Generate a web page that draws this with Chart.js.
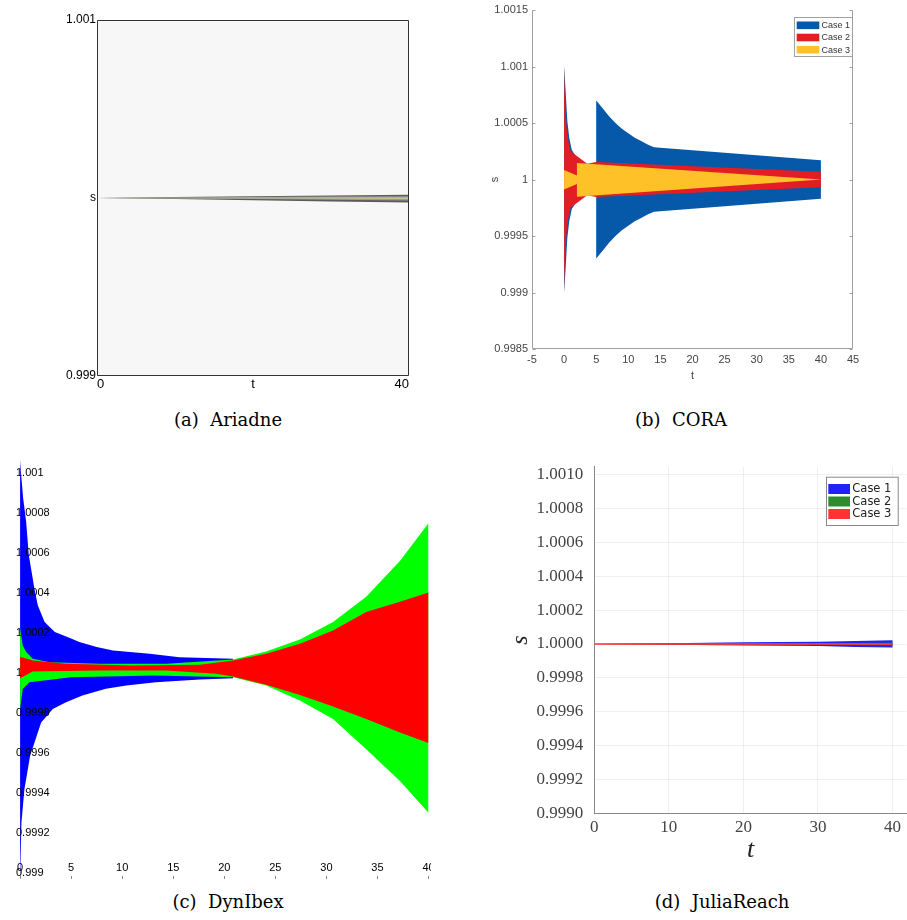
<!DOCTYPE html>
<html>
<head>
<meta charset="utf-8">
<script src="https://cdn.jsdelivr.net/npm/chart.js@4.4.1/dist/chart.umd.min.js"></script>
<style>
body { margin: 0; background: #fff; }
#fig { position: relative; width: 907px; height: 920px; overflow: hidden; }
canvas { position: absolute; }
.cap { position: absolute; width: 300px; text-align: center; font-family: 'DejaVu Serif', serif; font-size: 18px; color: #000; white-space: pre; }
</style>
</head>
<body>
<div id="fig">
  <canvas id="ariadne" width="400" height="400" style="left:40px;top:0px"></canvas>
  <canvas id="cora" width="447" height="400" style="left:460px;top:0px"></canvas>
  <canvas id="dynibex" width="431" height="425" style="left:0px;top:455px"></canvas>
  <canvas id="julia" width="407" height="425" style="left:500px;top:455px"></canvas>
  <div class="cap" style="left:78px;top:409px">(a)  Ariadne</div>
  <div class="cap" style="left:531px;top:409px">(b)  CORA</div>
  <div class="cap" style="left:78px;top:891px">(c)  DynIbex</div>
  <div class="cap" style="left:572px;top:891px">(d)  JuliaReach</div>
</div>
<script>
const caseLabels = ['Case 1', 'Case 2', 'Case 3'];

// (a) Ariadne - three nested grey bands
const ariT = [0, 5, 10, 20, 30, 40];
const ariOuterUp = [1, 1.000003, 1.000006, 1.000010, 1.000014, 1.000018];
const ariOuterLo = [1, 0.999997, 0.999994, 0.999988, 0.999981, 0.999975];
const ariMidUp = [1, 1.000002, 1.000003, 1.000006, 1.000008, 1.000010];
const ariMidLo = [1, 0.999998, 0.999997, 0.999994, 0.999990, 0.999986];
const ariCoreUp = [1, 1.000001, 1.000001, 1.000002, 1.000003, 1.000003];
const ariCoreLo = [1, 0.999999, 0.999999, 0.999998, 0.999997, 0.999995];
const ariYTicks = [0.999, 1, 1.001];
const ariYLabels = ['0.999', 's', '1.001'];
const ariXTicks = [0, 20, 40];
const ariXLabels = ['0', 't', '40'];

// (b) CORA
const coraC1T = [0, 0.2, 0.5, 0.8, 1.2, 3, 5, 5, 6, 7, 8, 9, 10, 11, 12, 13, 14, 40];
const coraC1Up = [1.001, 1.00082, 1.00052, 1.00037, 1.00026, 1.0001, 1.0001, 1.0007, 1.00063, 1.00056, 1.0005, 1.00045, 1.00041, 1.00037, 1.00034, 1.00031, 1.000285, 1.00017];
const coraC1Lo = [0.999, 0.99918, 0.99948, 0.99963, 0.99974, 0.9999, 0.9999, 0.9993, 0.99937, 0.99944, 0.9995, 0.99955, 0.99959, 0.99963, 0.99966, 0.99969, 0.999715, 0.99983];
const coraC2T = [0, 0.15, 0.4, 0.7, 1.0, 3.6, 5, 40];
const coraC2Up = [1.001, 1.0007, 1.00045, 1.00033, 1.00025, 1.00014, 1.000155, 1.000068];
const coraC2Lo = [0.999, 0.9993, 0.99955, 0.99967, 0.99975, 0.99986, 0.999845, 0.999932];
const coraC3T = [0, 2, 2, 40];
const coraC3Up = [1.000083, 1.000035, 1.000147, 1.0];
const coraC3Lo = [0.999912, 0.99996, 0.999847, 1.0];
const coraYTicks = [0.9985, 0.999, 0.9995, 1, 1.0005, 1.001, 1.0015];
const coraXTicks = [-5, 0, 5, 10, 15, 20, 25, 30, 35, 40, 45];

// (c) DynIbex
const dynC1UpT = [0, 0.1, 0.3, 0.59, 0.85, 1.4, 1.73, 2.4, 3.4, 5.0, 5.8, 7.5, 9.1, 12.7, 15.6, 20.85];
const dynC1Up = [1.001067, 1.000992, 1.000874, 1.000757, 1.00059, 1.000423, 1.000339, 1.000255, 1.000205, 1.000172, 1.000155, 1.00013, 1.000113, 1.000096, 1.000079, 1.000071];
const dynC1LoT = [0, 0.13, 0.42, 0.98, 2.06, 3.2, 4.5, 6.1, 8.4, 10.4, 13.3, 17.6, 20.85];
const dynC1Lo = [0.99894, 0.999251, 0.999418, 0.999586, 0.999753, 0.99982, 0.999854, 0.999887, 0.999921, 0.999937, 0.999954, 0.999967, 0.999974];
const dynC2UpT = [0, 0.26, 0.59, 1.24, 2.9, 7.8, 14.3, 20.85, 24.1, 27.4, 30.65, 33.9, 37.2, 40];
const dynC2Up = [1.000222, 1.000138, 1.000105, 1.000071, 1.000054, 1.000046, 1.000046, 1.000068, 1.000108, 1.000168, 1.000255, 1.000381, 1.00056, 1.000749];
const dynC2LoT = [0, 0.26, 0.9, 5, 13, 20.85, 24.1, 27.4, 30.65, 33.9, 37.2, 40];
const dynC2Lo = [0.99982, 0.99992, 0.999954, 0.999979, 0.999987, 0.999979, 0.999937, 0.999862, 0.99977, 0.999619, 0.99946, 0.999301];
const dynC3UpT = [0, 0.26, 1.24, 4.5, 11, 17.6, 20.85, 24.1, 27.4, 30.65, 33.9, 37.2, 40];
const dynC3Up = [1.00008, 1.000077, 1.000063, 1.000046, 1.000038, 1.000041, 1.000063, 1.000096, 1.000146, 1.000213, 1.000305, 1.000356, 1.000402];
const dynC3LoT = [0, 1.24, 7.8, 14.3, 19.2, 20.85, 24.1, 27.4, 30.65, 33.9, 37.2, 40];
const dynC3Lo = [0.999974, 1.000008, 1.000013, 1.000013, 0.999996, 0.999982, 0.999941, 0.99989, 0.999833, 0.99977, 0.999703, 0.99965];
const dynYTicks = [0.999, 0.9992, 0.9994, 0.9996, 0.9998, 1, 1.0002, 1.0004, 1.0006, 1.0008, 1.001];
const dynXTicks = [0, 5, 10, 15, 20, 25, 30, 35, 40];

// (d) JuliaReach
const juliaT = [0, 5, 10, 20, 30, 35, 40];
const juliaC1Up = [1, 1.000002, 1.000005, 1.00001, 1.000014, 1.000018, 1.000022];
const juliaC1Lo = [1, 0.999998, 0.999995, 0.999991, 0.999988, 0.999982, 0.99998];
const juliaC2Up = [1, 1.000001, 1.000002, 1.000004, 1.000005, 1.000006, 1.000007];
const juliaC2Lo = [1, 0.999999, 0.999998, 0.999996, 0.999995, 0.999994, 0.999993];
const juliaC3Up = [1, 1.000001, 1.000001, 1.000001, 1.000001, 1.000001, 1.000001];
const juliaC3Lo = [1, 0.999999, 0.999999, 0.999999, 0.999999, 0.999999, 0.999999];
const juliaYTicks = [0.999, 0.9992, 0.9994, 0.9996, 0.9998, 1, 1.0002, 1.0004, 1.0006, 1.0008, 1.001];
const juliaXTicks = [0, 10, 20, 30, 40];

Chart.defaults.font.family = "'Liberation Sans', Arial, sans-serif";
const narrow = "'Liberation Sans Narrow', 'Liberation Sans', sans-serif";

// polygon: upper edge left to right, lower edge back
function band(tUp, up, tLo, lo) {
  const pts = tUp.map((t, i) => ({x: t, y: up[i]}));
  for (let i = tLo.length - 1; i >= 0; i--) pts.push({x: tLo[i], y: lo[i]});
  return pts;
}
function area(tUp, up, tLo, lo, color, order, extra) {
  return Object.assign({
    data: band(tUp, up, tLo, lo), fill: 'shape', backgroundColor: color,
    borderWidth: 0, pointRadius: 0, tension: 0, order: order
  }, extra || {});
}
const fixTicks = vals => scale => { scale.ticks = vals.map(v => ({value: v})); };
const fixWidth = w => scale => { scale.width = w; scale.paddingTop = 0; scale.paddingBottom = 0; };
const fixHeight = h => scale => { scale.height = h; scale.paddingLeft = 0; scale.paddingRight = 0; };
const trim = v => String(parseFloat(Number(v).toFixed(4)));

const framePlugin = {
  id: 'frame',
  beforeDatasetsDraw(chart, args, o) {
    if (!o || !o.fill) return;
    const a = chart.chartArea, ctx = chart.ctx;
    ctx.save();
    ctx.fillStyle = o.fill;
    ctx.fillRect(a.left, a.top, a.right - a.left, a.bottom - a.top);
    ctx.restore();
  },
  afterDatasetsDraw(chart, args, o) {
    if (!o || !o.sides) return;
    const a = chart.chartArea, ctx = chart.ctx;
    const L = Math.round(a.left) + 0.5, R = Math.round(a.right) - 0.5;
    const T = Math.round(a.top) + 0.5, B = Math.round(a.bottom) - 0.5;
    ctx.save();
    ctx.strokeStyle = o.color;
    ctx.lineWidth = 1;
    ctx.beginPath();
    if (o.sides.includes('left')) { ctx.moveTo(L, T); ctx.lineTo(L, B); }
    if (o.sides.includes('right')) { ctx.moveTo(R, T); ctx.lineTo(R, B); }
    if (o.sides.includes('top')) { ctx.moveTo(L, T); ctx.lineTo(R, T); }
    if (o.sides.includes('bottom')) { ctx.moveTo(L, B); ctx.lineTo(R, B); }
    if (o.tick) {
      const ys = chart.scales.y;
      ys.ticks.forEach(t => {
        const p = Math.round(ys.getPixelForValue(t.value)) + 0.5;
        if (o.sides.includes('left')) { ctx.moveTo(L, p); ctx.lineTo(L + o.tick, p); }
        if (o.sides.includes('right')) { ctx.moveTo(R, p); ctx.lineTo(R - o.tick, p); }
      });
    }
    ctx.stroke();
    ctx.restore();
  }
};

// legend box drawn inside the plot, entries come from labelled datasets
const boxLegend = {
  id: 'boxLegend',
  afterDraw(chart, args, o) {
    if (!o || o.x === undefined) return;
    const ctx = chart.ctx;
    const items = chart.data.datasets.filter(d => d.label);
    ctx.save();
    ctx.fillStyle = '#fff';
    ctx.fillRect(o.x, o.y, o.w, o.h);
    ctx.strokeStyle = o.border;
    ctx.lineWidth = 1;
    ctx.strokeRect(o.x + 0.5, o.y + 0.5, o.w, o.h);
    ctx.font = o.font;
    ctx.textBaseline = 'middle';
    items.forEach((d, i) => {
      const y = o.y + o.y0 + i * o.row;
      ctx.fillStyle = d.backgroundColor;
      ctx.fillRect(o.x + o.sx, y, o.sw, o.sh);
      ctx.fillStyle = o.color;
      ctx.fillText(d.label, o.x + o.tx, y + o.sh / 2 + 0.5);
    });
    ctx.restore();
  }
};

const base = {
  animation: false,
  responsive: false,
  devicePixelRatio: 1,
  events: []
};

// (a) Ariadne
new Chart(document.getElementById('ariadne'), {
  type: 'line',
  data: {datasets: [
    area(ariT, ariOuterUp, ariT, ariOuterLo, '#5b5b5b', 3),
    area(ariT, ariMidUp, ariT, ariMidLo, '#9c9c9c', 2),
    area(ariT, ariCoreUp, ariT, ariCoreLo, '#cdc38d', 1)
  ]},
  options: Object.assign({}, base, {
    layout: {padding: {top: 20, right: 31, left: 0, bottom: 0}},
    plugins: {
      legend: {display: false}, tooltip: {enabled: false},
      frame: {fill: '#f7f7f7', color: '#333', sides: ['left', 'right', 'top', 'bottom']}
    },
    scales: {
      x: {
        type: 'linear', min: 0, max: 40,
        afterBuildTicks: fixTicks(ariXTicks), afterFit: fixHeight(24),
        grid: {display: false, drawTicks: false}, border: {display: false},
        ticks: {align: 'inner', maxRotation: 0, padding: 1, color: '#000', font: {size: 13},
                callback: (v, i) => ariXLabels[i]}
      },
      y: {
        min: 0.999, max: 1.001,
        afterBuildTicks: fixTicks(ariYTicks), afterFit: fixWidth(57),
        grid: {display: false, drawTicks: false}, border: {display: false},
        ticks: {padding: 1, color: '#000', font: {size: 12}, callback: (v, i) => ariYLabels[i]}
      }
    }
  }),
  plugins: [framePlugin]
});

// (b) CORA
new Chart(document.getElementById('cora'), {
  type: 'line',
  data: {datasets: [
    area(coraC1T, coraC1Up, coraC1T, coraC1Lo, '#0659a9', 3, {label: caseLabels[0]}),
    area(coraC2T, coraC2Up, coraC2T, coraC2Lo, '#e31d24', 2, {label: caseLabels[1]}),
    area(coraC3T, coraC3Up, coraC3T, coraC3Lo, '#fec127', 1, {label: caseLabels[2]})
  ]},
  options: Object.assign({}, base, {
    layout: {padding: {top: 10, right: 54, left: 0, bottom: 0}},
    plugins: {
      legend: {display: false}, tooltip: {enabled: false},
      frame: {color: '#a0a0a0', sides: ['left', 'right', 'bottom'], tick: 3},
      boxLegend: {x: 334, y: 17, w: 58, h: 39, y0: 4.5, row: 12.2, sx: 2.7, sw: 22.6, sh: 7.6, tx: 27.5,
                  font: "9px " + narrow, color: '#333', border: '#a0a0a0'}
    },
    scales: {
      x: {
        type: 'linear', min: -5, max: 45,
        afterBuildTicks: fixTicks(coraXTicks), afterFit: fixHeight(51),
        grid: {display: false, drawTicks: false}, border: {display: false},
        ticks: {maxRotation: 0, padding: 4, color: '#444', font: {family: narrow, size: 11}},
        title: {display: true, text: 't', color: '#444', font: {family: narrow, size: 11}, padding: {top: 0, bottom: 17}}
      },
      y: {
        min: 0.9985, max: 1.0015,
        afterBuildTicks: fixTicks(coraYTicks), afterFit: fixWidth(72),
        grid: {display: false, drawTicks: false}, border: {display: false},
        ticks: {padding: 4, color: '#444', font: {family: narrow, size: 11}, callback: v => trim(v)},
        title: {display: true, text: 's', color: '#444', font: {family: narrow, size: 11}, padding: {top: 28, bottom: 0}}
      }
    }
  }),
  plugins: [framePlugin, boxLegend]
});

// (c) DynIbex - tick labels sit inside the plot, over the data
new Chart(document.getElementById('dynibex'), {
  type: 'line',
  data: {datasets: [
    area(dynC1UpT, dynC1Up, dynC1LoT, dynC1Lo, '#0000ff', 3, {label: caseLabels[0]}),
    area(dynC2UpT, dynC2Up, dynC2LoT, dynC2Lo, '#00ff00', 2, {label: caseLabels[1]}),
    area(dynC3UpT, dynC3Up, dynC3LoT, dynC3Lo, '#ff0000', 1, {label: caseLabels[2]})
  ]},
  options: Object.assign({}, base, {
    layout: {padding: {top: 5, right: 2.5, left: 0, bottom: 0}},
    plugins: {legend: {display: false}, tooltip: {enabled: false}},
    scales: {
      x: {
        type: 'linear', min: -0.5, max: 40,
        afterBuildTicks: fixTicks(dynXTicks), afterFit: fixHeight(4),
        grid: {drawOnChartArea: false, drawTicks: true, tickLength: 3, color: '#888'}, border: {display: false},
        ticks: {mirror: true, z: 1, maxRotation: 0, autoSkip: false, padding: 1, color: '#000', font: {family: narrow, size: 11}}
      },
      y: {
        min: 0.998985, max: 1.001065,
        afterBuildTicks: fixTicks(dynYTicks), afterFit: fixWidth(15),
        grid: {display: false, drawTicks: false}, border: {display: false},
        ticks: {mirror: true, z: 1, padding: 1, color: '#000', font: {family: narrow, size: 11}, callback: v => trim(v)}
      }
    }
  })
});

// (d) JuliaReach
new Chart(document.getElementById('julia'), {
  type: 'line',
  data: {datasets: [
    area(juliaT, juliaC1Up, juliaT, juliaC1Lo, '#2222f5', 3, {label: caseLabels[0]}),
    area(juliaT, juliaC2Up, juliaT, juliaC2Lo, '#2e8b2e', 2, {label: caseLabels[1]}),
    area(juliaT, juliaC3Up, juliaT, juliaC3Lo, '#ff3333', 1, {label: caseLabels[2], borderWidth: 1, borderColor: '#ff3333'})
  ]},
  options: Object.assign({}, base, {
    layout: {padding: {top: 11.7, right: 0.3, left: 0, bottom: 0}},
    plugins: {
      legend: {display: false}, tooltip: {enabled: false},
      boxLegend: {x: 326, y: 21.7, w: 71.7, h: 48.3, y0: 7.3, row: 12.5, sx: 2.3, sw: 21.7, sh: 10, tx: 26.3,
                  font: "11.5px 'DejaVu Sans', sans-serif", color: '#222', border: '#888'}
    },
    scales: {
      x: {
        type: 'linear', min: 0, max: 41.9,
        afterBuildTicks: fixTicks(juliaXTicks), afterFit: fixHeight(66.3),
        grid: {color: 'rgba(0,0,0,0.06)', drawTicks: false}, border: {display: true, color: '#888'},
        ticks: {maxRotation: 0, padding: 4, color: '#444', font: {family: "'Liberation Serif', serif", size: 17}},
        title: {display: true, text: 't', color: '#222', font: {family: "'Liberation Serif', serif", style: 'italic', size: 26}, padding: {top: 0, bottom: 14}}
      },
      y: {
        min: 0.999, max: 1.001045,
        afterBuildTicks: fixTicks(juliaYTicks), afterFit: fixWidth(94.3),
        grid: {color: 'rgba(0,0,0,0.06)', drawTicks: false}, border: {display: true, color: '#888'},
        ticks: {padding: 11, color: '#444', font: {family: "'Liberation Serif', serif", size: 17}, callback: v => Number(v).toFixed(4)},
        title: {display: true, text: 's', color: '#222', font: {family: "'Liberation Serif', serif", style: 'italic', size: 24}, padding: {top: 6, bottom: 0}}
      }
    }
  }),
  plugins: [boxLegend]
});
</script>
</body>
</html>
